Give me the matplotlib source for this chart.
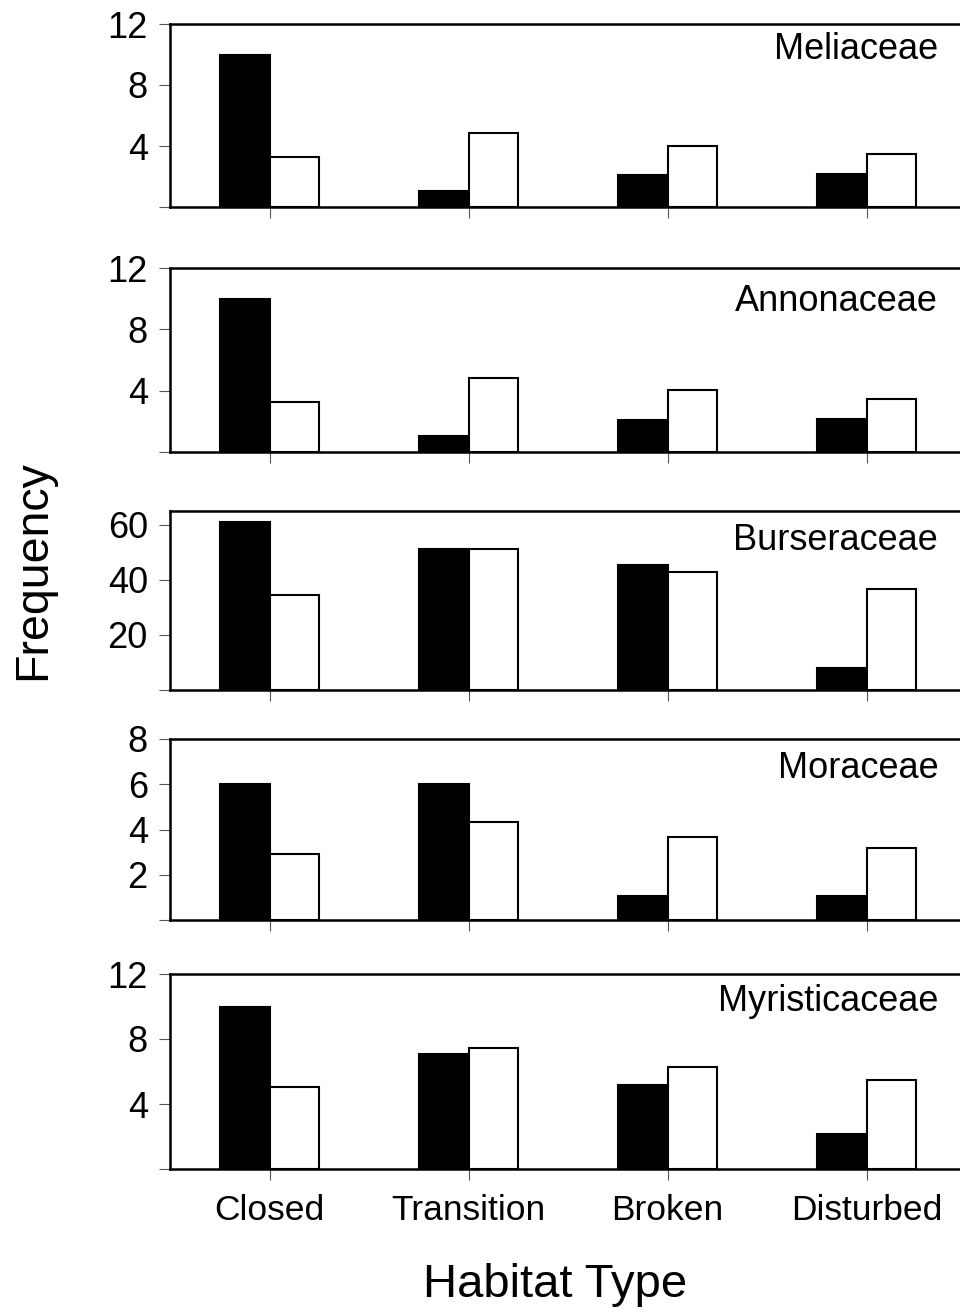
import numpy as np
import matplotlib
import matplotlib.pyplot as plt

matplotlib.use('agg')

plt.rcParams['font.family'] = ['Liberation Sans', 'DejaVu Sans']

habitats = ['Closed', 'Transition', 'Broken', 'Disturbed']
families = ['Meliaceae', 'Annonaceae', 'Burseraceae', 'Moraceae', 'Myristicaceae']

# Black (filled) and white (open) bar values per family.
meliaceae_black = [10, 1.05, 2.1, 2.15]
meliaceae_white = [3.25, 4.85, 4.0, 3.45]
annonaceae_black = [10, 1.05, 2.1, 2.15]
annonaceae_white = [3.25, 4.85, 4.05, 3.45]
burseraceae_black = [61, 51.3, 45.5, 8]
burseraceae_white = [34.5, 51.3, 43, 36.7]
moraceae_black = [6, 6, 1.05, 1.05]
moraceae_white = [2.9, 4.35, 3.65, 3.2]
myristicaceae_black = [10, 7.1, 5.15, 2.15]
myristicaceae_white = [5.05, 7.45, 6.3, 5.5]

black_vals = [meliaceae_black, annonaceae_black, burseraceae_black,
              moraceae_black, myristicaceae_black]
white_vals = [meliaceae_white, annonaceae_white, burseraceae_white,
              moraceae_white, myristicaceae_white]
y_ticks = [[0, 4, 8, 12], [0, 4, 8, 12], [0, 20, 40, 60],
           [0, 2, 4, 6, 8], [0, 4, 8, 12]]
y_max = [12, 12, 65, 8, 12]

W, H = 960, 1314
fig = plt.figure(figsize=(W / 100, H / 100), dpi=100)

# Panel boxes in pixels: (top, bottom).
boxes = [(24, 207), (268, 452), (511, 690), (739, 920), (974, 1169)]
label_y = [0.86, 0.82, 0.835, 0.835, 0.86]
left_px, right_px = 170, 966

x = np.arange(len(habitats))
width = 0.25
for i, fam in enumerate(families):
    top, bottom = boxes[i]
    ax = fig.add_axes([left_px / W, 1 - bottom / H,
                       (right_px - left_px) / W, (bottom - top) / H])
    ax.bar(x - width / 2, black_vals[i], width, color='black',
           edgecolor='black', linewidth=1.5)
    ax.bar(x + width / 2, white_vals[i], width, color='white',
           edgecolor='black', linewidth=1.5)
    ax.set_xlim(-0.5, 3.5)
    ax.set_ylim(0, y_max[i])
    ax.set_yticks(y_ticks[i])
    ax.set_yticklabels([''] + [str(t) for t in y_ticks[i][1:]], fontsize=26)
    ax.set_xticks(x)
    if i == len(families) - 1:
        ax.set_xticklabels(habitats, fontsize=25.5)
    else:
        ax.set_xticklabels([])
    ax.tick_params(axis='both', direction='out', length=8, width=0.8,
                   color='#555555', pad=8)
    ax.tick_params(axis='x', pad=10)
    for side in ['left', 'top', 'bottom']:
        ax.spines[side].set_linewidth(1.8)
    ax.spines['right'].set_visible(False)
    ax.text(0.965, label_y[i], fam, transform=ax.transAxes, ha='right',
            va='center', fontsize=26)

fig.text(33 / W, 1 - 570 / H, 'Frequency', rotation=90, ha='center',
         va='center', fontsize=33.5)
fig.text(555 / W, 1 - 1285 / H, 'Habitat Type', ha='center', va='center',
         fontsize=34)

plt.savefig('out.png', dpi=100)
